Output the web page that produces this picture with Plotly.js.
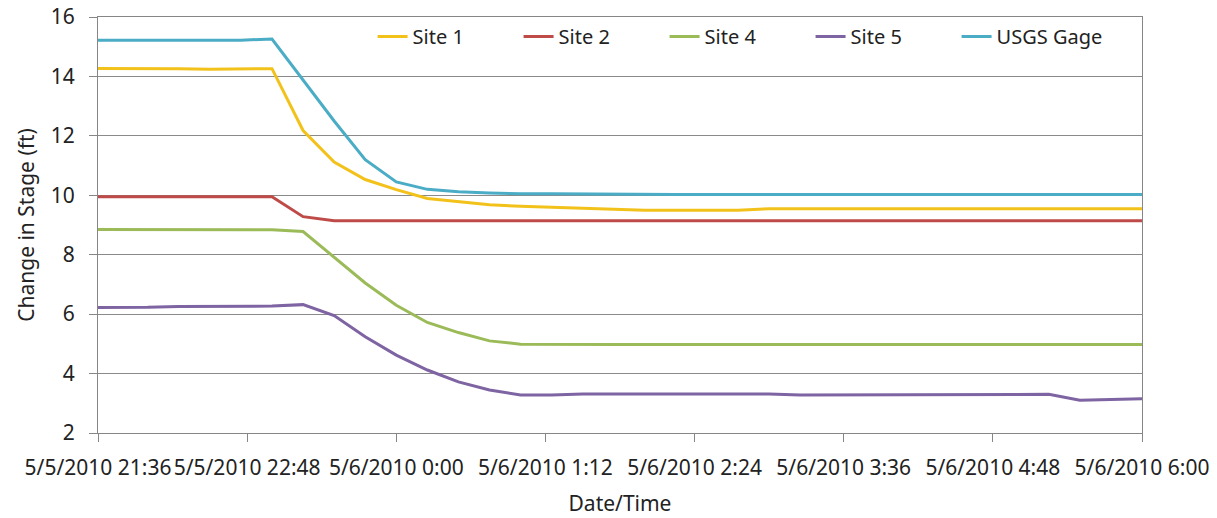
<!DOCTYPE html>
<html>
<head>
<meta charset="utf-8">
<script src="https://cdn.plot.ly/plotly-3.0.1.min.js"></script>
<style>html,body{margin:0;padding:0;background:#fff;}#chart{width:1217px;height:518px;}</style>
</head>
<body>
<div id="chart"></div>
<script>
const times = [
  "2010-05-05 21:36","2010-05-05 21:45","2010-05-05 22:00","2010-05-05 22:15","2010-05-05 22:30","2010-05-05 22:45",
  "2010-05-05 23:00","2010-05-05 23:15","2010-05-05 23:30","2010-05-05 23:45","2010-05-06 00:00","2010-05-06 00:15",
  "2010-05-06 00:30","2010-05-06 00:45","2010-05-06 01:00","2010-05-06 01:15","2010-05-06 01:30","2010-05-06 01:45",
  "2010-05-06 02:00","2010-05-06 02:15","2010-05-06 02:30","2010-05-06 02:45","2010-05-06 03:00","2010-05-06 03:15",
  "2010-05-06 03:30","2010-05-06 03:45","2010-05-06 04:00","2010-05-06 04:15","2010-05-06 04:30","2010-05-06 04:45",
  "2010-05-06 05:00","2010-05-06 05:15","2010-05-06 05:30","2010-05-06 05:45","2010-05-06 06:00"
];
const site1 = [14.27,14.27,14.27,14.26,14.24,14.26,14.26,12.18,11.12,10.53,10.19,9.89,9.78,9.68,9.63,9.60,9.57,9.53,9.50,9.50,9.50,9.50,9.55,9.55,9.55,9.55,9.55,9.55,9.55,9.55,9.55,9.55,9.55,9.55,9.55];
const site2 = [9.95,9.95,9.95,9.95,9.95,9.95,9.95,9.28,9.14,9.14,9.14,9.14,9.14,9.14,9.14,9.14,9.14,9.14,9.14,9.14,9.14,9.14,9.14,9.14,9.14,9.14,9.14,9.14,9.14,9.14,9.14,9.14,9.14,9.14,9.14];
const site4 = [8.85,8.85,8.85,8.85,8.85,8.85,8.84,8.78,7.90,7.05,6.30,5.72,5.38,5.10,4.99,4.98,4.98,4.98,4.98,4.98,4.98,4.98,4.98,4.98,4.98,4.98,4.98,4.98,4.98,4.98,4.98,4.98,4.98,4.98,4.98];
const site5 = [6.22,6.22,6.23,6.26,6.27,6.27,6.27,6.32,5.95,5.24,4.62,4.12,3.72,3.45,3.28,3.28,3.31,3.31,3.31,3.31,3.31,3.31,3.31,3.28,3.28,3.28,3.28,3.28,3.28,3.28,3.28,3.30,3.10,3.13,3.15];
const usgs  = [15.22,15.22,15.22,15.22,15.24,15.22,15.26,13.90,12.50,11.20,10.45,10.20,10.12,10.08,10.05,10.05,10.04,10.03,10.03,10.03,10.03,10.03,10.03,10.03,10.03,10.03,10.03,10.03,10.03,10.03,10.03,10.03,10.03,10.03,10.03];

const seriesNames = ["Site 1","Site 2","Site 4","Site 5","USGS Gage"];
const tickVals = ["2010-05-05 21:36","2010-05-05 22:48","2010-05-06 00:00","2010-05-06 01:12","2010-05-06 02:24","2010-05-06 03:36","2010-05-06 04:48","2010-05-06 06:00"];
const tickText = ["5/5/2010 21:36","5/5/2010 22:48","5/6/2010 0:00","5/6/2010 1:12","5/6/2010 2:24","5/6/2010 3:36","5/6/2010 4:48","5/6/2010 6:00"];
const yTicks = [2,4,6,8,10,12,14,16];

const colors = ["#F2C21B","#BE4B48","#9BBB59","#7E64A2","#4BACC6"];
const ys = [site1, site2, site4, site5, usgs];

const traces = ys.map((y, i) => ({
  x: times, y: y, name: seriesNames[i], type: "scatter", mode: "lines",
  line: {color: colors[i], width: 3}
}));

const font = "Noto Sans, Open Sans, sans-serif";
const layout = {
  width: 1217, height: 518,
  margin: {l: 98, r: 75, t: 17, b: 85},
  paper_bgcolor: "#fff", plot_bgcolor: "#fff",
  font: {family: font, color: "#222"},
  showlegend: true,
  legend: {
    orientation: "h", x: 0.263, xanchor: "left", y: 1.0, yanchor: "top",
    font: {family: font, size: 20, color: "#222"},
    entrywidth: 101, entrywidthmode: "pixels",
    bgcolor: "rgba(0,0,0,0)", traceorder: "normal"
  },
  xaxis: {
    type: "date",
    range: ["2010-05-05 21:36", "2010-05-06 06:00"],
    tickmode: "array", tickvals: tickVals, ticktext: tickText,
    tickangle: 0,
    tickfont: {family: font, size: 21, color: "#222"},
    ticks: "outside", ticklen: 8, tickcolor: "#868686",
    showline: true, linecolor: "#868686", linewidth: 1, mirror: true,
    showgrid: false, zeroline: false,
    ticklabelstandoff: 8,
    title: {text: "Date/Time", font: {family: font, size: 21, color: "#222"}, standoff: 16}
  },
  yaxis: {
    range: [2, 16],
    tickmode: "array", tickvals: yTicks,
    tickfont: {family: font, size: 21, color: "#222"},
    ticks: "outside", ticklen: 8, tickcolor: "#868686",
    showline: true, linecolor: "#868686", linewidth: 1, mirror: true,
    showgrid: true, gridcolor: "#8a8a8a", gridwidth: 1,
    zeroline: false,
    ticklabelstandoff: 10,
    title: {text: "Change in Stage (ft)", font: {family: font, size: 21, color: "#222"}, standoff: 10}
  }
};

Plotly.newPlot("chart", traces, layout, {displayModeBar: false, staticPlot: true});
</script>
</body>
</html>
